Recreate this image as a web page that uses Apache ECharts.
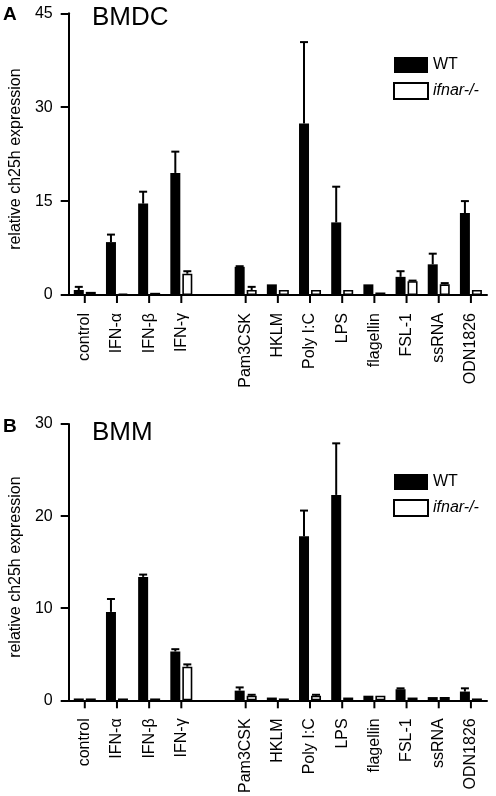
<!DOCTYPE html>
<html>
<head>
<meta charset="utf-8">
<script src="https://cdn.jsdelivr.net/npm/echarts@6/dist/echarts.min.js"></script>
<style>
html,body{margin:0;padding:0;background:#fff;}
#chart{width:496px;height:796px;}
</style>
</head>
<body>
<div id="chart"></div>
<script>
// ---- data ----
const categories = ['control','IFN-α','IFN-β','IFN-γ','','Pam3CSK','HKLM','Poly I:C','LPS','flagellin','FSL-1','ssRNA','ODN1826'];
const seriesNames = ['WT','ifnar-/-'];

// Panel A: BMDC
const bmdcWT      = [0.8, 8.45, 14.6, 19.5, null, 4.5, 1.7, 27.4, 11.6, 1.7, 2.9, 4.9, 13.1];
const bmdcWTErr   = [0.5, 1.2, 1.9, 3.4, null, 0.1, 0, 13.0, 5.7, 0, 0.9, 1.7, 1.9];
const bmdcKO      = [0.5, 0.2, 0.35, 3.4, null, 0.8, 0.8, 0.8, 0.8, 0.4, 2.2, 1.7, 0.8];
const bmdcKOErr   = [0, 0, 0, 0.4, null, 0.5, 0, 0, 0, 0, 0.1, 0.2, 0];

// Panel B: BMM
const bmmWT       = [0.2, 9.6, 13.4, 5.3, null, 1.05, 0.3, 17.8, 22.3, 0.5, 1.2, 0.35, 0.95];
const bmmWTErr    = [0, 1.4, 0.25, 0.25, null, 0.35, 0, 2.8, 5.6, 0, 0.1, 0, 0.35];
const bmmKO       = [0.2, 0.2, 0.2, 3.65, null, 0.5, 0.2, 0.5, 0.3, 0.5, 0.3, 0.35, 0.2];
const bmmKOErr    = [0, 0, 0, 0.25, null, 0.1, 0, 0.1, 0, 0, 0, 0, 0];

const bmdcTicks = {min:0, max:45, interval:15};
const bmmTicks  = {min:0, max:30, interval:10};

const yName = 'relative ch25h expression';
const FONT = 'Liberation Sans, Arial, Helvetica, sans-serif';
const BAR_W = 10, BAR_OFF = 6;

function xAxis(idx){
  return {
    type:'category', gridIndex:idx, data:categories,
    axisLine:{lineStyle:{color:'#000',width:2}},
    axisTick:{show:false},
    axisLabel:{interval:0,rotate:90,margin:18,color:'#000',fontSize:16,fontFamily:FONT},
    splitLine:{show:false}
  };
}
function yAxis(idx,t){
  return {
    type:'value', gridIndex:idx, min:t.min, max:t.max, interval:t.interval,
    name:yName, nameLocation:'middle', nameGap:39,
    nameTextStyle:{color:'#000',fontSize:16,fontFamily:FONT,padding:[0,0,0,-10]},
    axisLine:{show:true,lineStyle:{color:'#000',width:2}},
    axisTick:{show:true,length:8,lineStyle:{color:'#000',width:2}},
    axisLabel:{color:'#000',fontSize:16,fontFamily:FONT,margin:16},
    splitLine:{show:false}
  };
}
function barSeries(name, idx, vals, filled){
  return {
    name:name, type:'bar', xAxisIndex:idx, yAxisIndex:idx, data:vals,
    barWidth:BAR_W, barGap:'20%',
    itemStyle: filled ? {color:'#000'} : {color:'#fff',borderColor:'#000',borderWidth:1.6},
    emphasis:{disabled:true}
  };
}
function errSeries(idx, vals, errs, offset){
  const d = [];
  vals.forEach((v,i)=>{ if(v!=null && errs[i]>0) d.push([i, v, v+errs[i]]); });
  return {
    type:'custom', xAxisIndex:idx, yAxisIndex:idx, silent:true, z:5, data:d,
    encode:{x:0,y:[1,2]},
    renderItem:function(params, api){
      const x = api.value(0), lo = api.value(1), hi = api.value(2);
      const p1 = api.coord([x, lo]), p2 = api.coord([x, hi]);
      const cx = p1[0] + offset;
      return {type:'group', children:[
        {type:'line', shape:{x1:cx,y1:p1[1],x2:cx,y2:p2[1]}, style:{stroke:'#000',lineWidth:2}},
        {type:'line', shape:{x1:cx-4,y1:p2[1],x2:cx+4,y2:p2[1]}, style:{stroke:'#000',lineWidth:2}}
      ]};
    }
  };
}
// x-axis tick marks at every non-empty category (custom series on the category scale)
function tickSeries(idx){
  const d = [];
  categories.forEach((c,i)=>{ if(c!=='') d.push([i]); });
  return {
    type:'custom', xAxisIndex:idx, yAxisIndex:idx, silent:true, z:6, data:d,
    encode:{x:0},
    renderItem:function(params, api){
      const p = api.coord([api.value(0), 0]);
      return {type:'line', shape:{x1:p[0],y1:p[1],x2:p[0],y2:p[1]+8}, style:{stroke:'#000',lineWidth:2}};
    },
    clip:false
  };
}
function legend(top){
  return {
    orient:'vertical', left:388, top:top, itemWidth:34, itemHeight:16, itemGap:9,
    icon:'rect',
    data:seriesNames, selectedMode:false,
    textStyle:{color:'#000',fontSize:16,fontFamily:FONT,rich:{i:{fontStyle:'italic',fontSize:16,fontFamily:FONT,color:'#000'}}},
    formatter:function(n){return n==='WT'?n:'{i|'+n+'}';}
  };
}

const chart = echarts.init(document.getElementById('chart'), null, {renderer:'canvas'});
chart.setOption({
  animation:false,
  backgroundColor:'#fff',
  textStyle:{fontFamily:FONT},
  grid:[
    {left:68, width:419, top:13.3, height:281.7},
    {left:68, width:419, top:424, height:284.3}
  ],
  xAxis:[xAxis(0), xAxis(1)],
  yAxis:[yAxis(0,bmdcTicks), yAxis(1,bmmTicks)],
  legend:[legend(52), legend(469)],
  graphic:[
    {type:'text', left:3, top:5, style:{text:'A', font:'bold 19px '+FONT, fill:'#000'}},
    {type:'text', left:92, top:5, style:{text:'BMDC', font:'26px '+FONT, fill:'#000'}},
    {type:'text', left:3, top:417, style:{text:'B', font:'bold 19px '+FONT, fill:'#000'}},
    {type:'text', left:92, top:420, style:{text:'BMM', font:'26px '+FONT, fill:'#000'}}
  ],
  series:[
    barSeries('WT',0,bmdcWT,true),
    barSeries('ifnar-/-',0,bmdcKO,false),
    errSeries(0,bmdcWT,bmdcWTErr,-BAR_OFF),
    errSeries(0,bmdcKO,bmdcKOErr,BAR_OFF),
    tickSeries(0),
    barSeries('WT',1,bmmWT,true),
    barSeries('ifnar-/-',1,bmmKO,false),
    errSeries(1,bmmWT,bmmWTErr,-BAR_OFF),
    errSeries(1,bmmKO,bmmKOErr,BAR_OFF),
    tickSeries(1)
  ]
});
</script>
</body>
</html>
